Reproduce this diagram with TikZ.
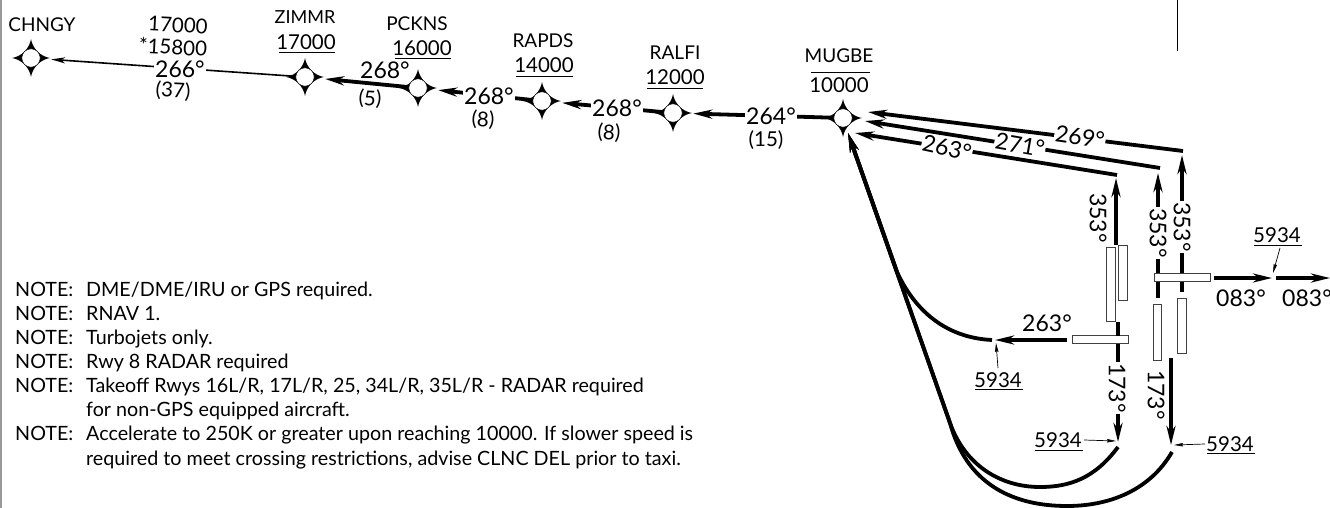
\documentclass[tikz,border=0pt]{standalone}
\usepackage{fontspec}
\setmainfont{Lato}
\usetikzlibrary{arrows.meta}
\tikzset{
  wpt/.style={circle,minimum size=40pt,inner sep=0pt,path picture={
    \begin{scope}[shift={(path picture bounding box.center)}]
    \fill[black] (0,-19) .. controls (1.5,-9.5) and (9.5,-1.5) .. (19,0) .. controls (9.5,1.5) and (1.5,9.5) .. (0,19)
      .. controls (-1.5,9.5) and (-9.5,1.5) .. (-19,0) .. controls (-9.5,-1.5) and (-1.5,-9.5) .. (0,-19) -- cycle;
    \draw[fill=white,line width=.5pt] (0,0) circle (9.2);
    \end{scope}}},
  tipa/.style={-{Stealth[length=19pt,width=9pt,inset=6pt]}},
  thinroute/.style={-{Stealth[length=14pt,width=6pt,inset=4pt]},line width=1.6pt,shorten <=-10pt},
  route/.style={tipa,line width=3.8pt,shorten <=-10pt},
  leg/.style={tipa,line width=3.8pt},
  plainleg/.style={line width=3.8pt},
  lead/.style={-{Stealth[length=9pt,width=3.5pt,inset=1pt]},line width=.7pt},
  rwy/.style={draw=black!75,line width=.8pt,fill=white,inner sep=0pt,outer sep=0pt},
  lbl/.style={font=\fontsize{23}{23}\selectfont,inner sep=1pt},
  onl/.style={lbl,fill=white,inner sep=1pt},
  sm/.style={font=\fontsize{19}{19}\selectfont,inner sep=0pt},
  num/.style={font=\fontsize{20.5}{20.5}\selectfont,inner sep=0pt},
  ul/.style={line width=.9pt},
  note/.style={font=\fontsize{19.7}{24}\selectfont,anchor=base west,inner sep=0pt},
}
\begin{document}
\begin{tikzpicture}[x=1pt,y=-1pt]
\useasboundingbox (0,0) rectangle (1330,508);
\fill[white] (0,0) rectangle (1330,508);
\fill[black!40] (0,0) rectangle (1.5,508);
\coordinate (tr1) at (1177,0); \coordinate (tr2) at (1177,51);
\draw[line width=.9pt] (tr1) -- (tr2);
% waypoints
\node[wpt] (CHNGY) at (31,58) {};
\node[wpt] (ZIMMR) at (305,77) {};
\node[wpt] (PCKNS) at (418,88) {};
\node[wpt] (RAPDS) at (542,101) {};
\node[wpt] (RALFI) at (673,113) {};
\node[wpt] (MUGBE) at (843,118) {};
% route
\draw[thinroute] (ZIMMR) -- (CHNGY);
\draw[route] (PCKNS) -- (ZIMMR);
\draw[route] (RAPDS) -- (PCKNS);
\draw[route] (RALFI) -- (RAPDS);
\draw[route] (MUGBE) -- (RALFI);
% end coordinates
\coordinate (m1) at (868,112); \coordinate (m2) at (865,121); \coordinate (m3) at (855,133); \coordinate (m4) at (848,133);
\coordinate (c1) at (1183,151); \coordinate (c2) at (1160,168); \coordinate (c3) at (1117,175);
\coordinate (t1) at (1116,178); \coordinate (t2) at (1158,173); \coordinate (t3) at (1182,155);
% runways
\node[rwy,minimum width=8.5pt,minimum height=74pt] (R1) at (1111,284) {};
\node[rwy,minimum width=8.5pt,minimum height=55pt] (R2) at (1123,272.5) {};
\node[rwy,minimum width=56pt,minimum height=8.5pt] (R3) at (1182,277.5) {};
\node[rwy,minimum width=8.5pt,minimum height=56pt] (R4) at (1157.5,332) {};
\node[rwy,minimum width=8.5pt,minimum height=55pt] (R5) at (1182,325.5) {};
\node[rwy,minimum width=56pt,minimum height=8pt] (R6) at (1100,339.5) {};
% legs
\draw[leg] (c1) -- (m1);
\draw[leg] (c2) -- (m2);
\draw[leg] (c3) -- (m3);
\coordinate (s1) at (1116,245);
\draw[leg] (s1) -- (t1);
\draw[leg] (R3.north -| t2) -- (t2);
\draw[leg] (R3.north -| t3) -- (t3);
\coordinate (e2b) at (1158,298); \coordinate (e3b) at (1182,292);
\draw[plainleg] (R3.south -| e2b) -- (e2b);
\draw[plainleg] (R3.south -| e3b) -- (e3b);
% departure 083
\coordinate (w1) at (1214,278); \coordinate (w2) at (1272,278); \coordinate (w3) at (1276,278); \coordinate (w4) at (1330,278);
\draw[leg] (w1) -- (w2);
\draw[leg] (w3) -- (w4);
% 263 west
\coordinate (h1) at (1067,340); \coordinate (h2) at (995,340);
\draw[leg] (h1) -- (h2);
% 173 south
\coordinate (n1) at (1118,322); \coordinate (n2) at (1118,442);
\coordinate (o1) at (1171,358); \coordinate (o2) at (1171,445);
\draw[plainleg] (n1) -- (R6.north -| n1);
\draw[leg] (R6.south -| n1) -- (n2);
\draw[leg] (o1) -- (o2);
% curves to MUGBE
\coordinate (a1) at (992,340); \coordinate (a2) at (1118,447); \coordinate (a3) at (1172,452);
\draw[leg] (a1) .. controls (950,338) and (917,315) .. (897,272) -- (m4);
\draw[leg] (a2) .. controls (1095,478) and (1070,487) .. (1040,487) .. controls (1000,487) and (965,465) .. (950,423) -- (m4);
\draw[leg] (a3) .. controls (1150,490) and (1110,506) .. (1067,506) .. controls (1010,506) and (966,482) .. (950,423) -- (m4);
% leads
\coordinate (l1s) at (998,368); \coordinate (l1e) at (996,343);
\coordinate (l2s) at (1084,440); \coordinate (l2e) at (1116,441);
\coordinate (l3s) at (1205,444); \coordinate (l3e) at (1174,445);
\coordinate (l4s) at (1280,248); \coordinate (l4e) at (1273,273);
\draw[lead] (l1s) -- (l1e); \draw[lead] (l2s) -- (l2e); \draw[lead] (l3s) -- (l3e); \draw[lead] (l4s) -- (l4e);
% labels on the lines
\node[onl] (b266) at (180,69) {266°};
\node[onl] (b268b) at (489,96) {268°};
\node[onl] (b268c) at (617,108) {268°};
\node[onl] (b264) at (771,116) {264°};
\node[onl,rotate=-8] (b269) at (1080,137) {269°};
\node[onl,rotate=-12] (b263a) at (947,148) {263°};
\node[onl,rotate=-10] (b271) at (1020,145) {271°};
\node[onl,rotate=-90] (v2) at (1158,233) {353°};
\node[onl,rotate=-90] (v3) at (1182,227) {353°};
\node[onl,rotate=-90] (s1t) at (1117,388) {173°};
% other labels
\node[sm] (tCHNGY) at (42,25) {CHNGY};
\node[num,rotate=-3] (alt1) at (178,25) {17000};
\node[num,rotate=-3] (alt2) at (173,47) {*15800};
\node[num,rotate=-3] (d37) at (173,91) {(37)};
\node[font=\fontsize{18}{18}\selectfont,inner sep=0pt] (tZIMMR) at (305,17) {ZIMMR};
\node[num] (aZIMMR) at (306,42) {17000};
\draw[ul] (279,52) -- (335,52);
\node[sm] (tPCKNS) at (417,24) {PCKNS};
\node[num] (aPCKNS) at (422,48) {16000};
\draw[ul] (395,58) -- (451,58);
\node[sm] (tRAPDS) at (543,41) {RAPDS};
\node[num] (aRAPDS) at (544,65) {14000};
\draw[ul] (516,76) -- (573,76);
\node[sm] (tRALFI) at (675,53) {RALFI};
\node[num] (aRALFI) at (675,77) {12000};
\draw[ul] (647,88) -- (703,88);
\node[sm] (tMUGBE) at (839,56) {MUGBE};
\node[num] (aMUGBE) at (839,85) {10000};
\draw[ul] (811,72) -- (870,72);
\node[lbl] (b268a) at (385,70) {268°};
\node[num,rotate=-3] (d5) at (370,99) {(5)};
\node[num,rotate=-3] (d8a) at (483,120) {(8)};
\node[num,rotate=-3] (d8b) at (609,133) {(8)};
\node[num] (d15) at (766,140) {(15)};
\node[lbl,rotate=-90] (v1) at (1098,218) {353°};
\node[lbl] (w83a) at (1241,298) {083°};
\node[lbl] (w83b) at (1307,298) {083°};
\node[lbl] (b263b) at (1047,323) {263°};
\node[lbl,rotate=-90] (s2t) at (1156,395) {173°};
\node[num] (e1) at (998,380) {5934};
\draw[ul] (975,389) -- (1023,389);
\node[num] (e2) at (1058,440) {5934};
\draw[ul] (1035,450) -- (1083,450);
\node[num] (e3) at (1230,444) {5934};
\draw[ul] (1207,453) -- (1255,453);
\node[num] (e4) at (1277,235) {5934};
\draw[ul] (1254,245) -- (1302,245);
% notes
\node[note] (n01) at (15,296) {NOTE:};\node[note] (n01b) at (86,296) {DME/DME/IRU or GPS required.};
\node[note] (n02) at (15,320) {NOTE:};\node[note] (n02b) at (86,320) {RNAV 1.};
\node[note] (n03) at (15,344) {NOTE:};\node[note] (n03b) at (86,344) {Turbojets only.};
\node[note] (n04) at (15,368) {NOTE:};\node[note] (n04b) at (86,368) {Rwy 8 RADAR required};
\node[note] (n05) at (15,392) {NOTE:};\node[note] (n05b) at (86,392) {Takeoff Rwys 16L/R, 17L/R, 25, 34L/R, 35L/R - RADAR required};
\node[note] (n06b) at (86,416) {for non-GPS equipped aircraft.};
\node[note] (n07) at (15,440) {NOTE:};\node[note] (n07b) at (86,440) {Accelerate to 250K or greater upon reaching 10000.  If slower speed is};
\node[note] (n08b) at (86,465) {required to meet crossing restrictions, advise CLNC DEL prior to taxi.};
\end{tikzpicture}
\end{document}
